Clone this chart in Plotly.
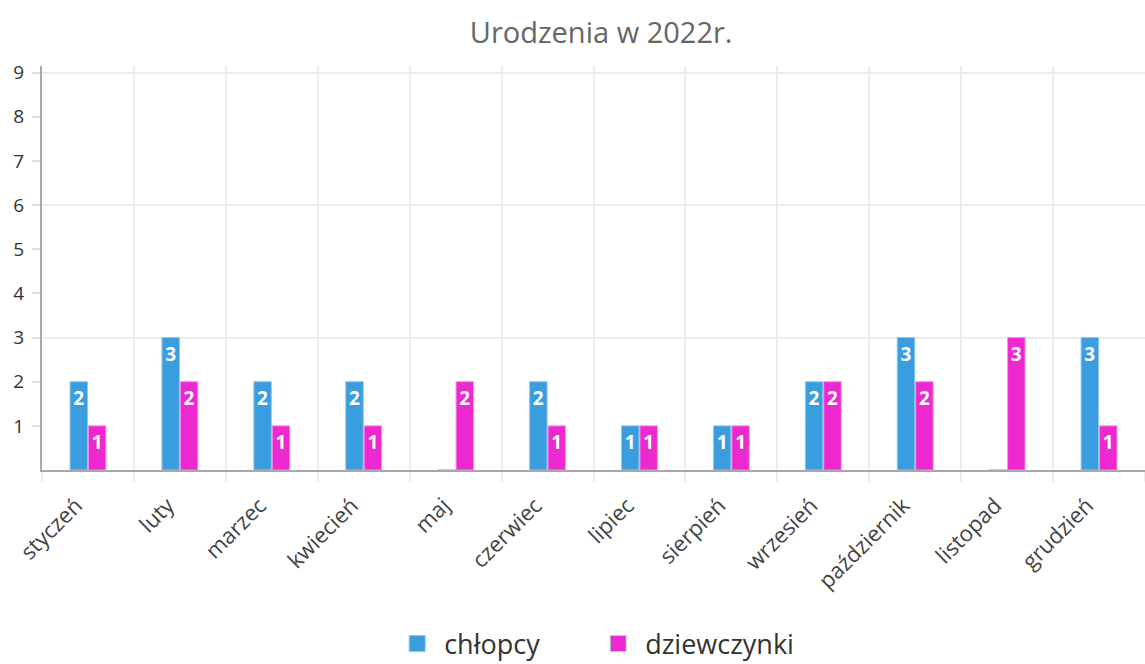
import plotly.graph_objects as go

months = ["styczeń", "luty", "marzec", "kwiecień", "maj", "czerwiec", "lipiec",
          "sierpień", "wrzesień", "październik", "listopad", "grudzień"]
boys = [2, 3, 2, 2, 0, 2, 1, 1, 2, 3, 0, 3]
girls = [1, 2, 1, 1, 2, 1, 1, 1, 2, 2, 3, 1]
y_ticks = list(range(1, 10))

BLUE = "#3a9de0"
PINK = "#ee28d0"
BLUE_EDGE = "#8cc8ee"
PINK_EDGE = "#f78fe6"

def labels(vals):
    return [str(v) if v else "" for v in vals]

fig = go.Figure()
for name, vals, col, edge in [("chłopcy", boys, BLUE, BLUE_EDGE),
                              ("dziewczynki", girls, PINK, PINK_EDGE)]:
    fig.add_trace(go.Bar(
        x=months, y=vals, name=name, legendgroup=name, showlegend=False,
        marker=dict(color=col, line=dict(color=edge, width=1)),
        text=labels(vals), textposition="inside", insidetextanchor="end",
        textangle=0, constraintext="none",
        textfont=dict(family="Open Sans", size=19, color="white", weight="bold"),
    ))
# legend entries with larger square swatches
for name, col, edge in [("chłopcy", BLUE, BLUE_EDGE), ("dziewczynki", PINK, "#9fe3b8")]:
    fig.add_trace(go.Scatter(
        x=[None], y=[None], name=" " + name, legendgroup=name, mode="markers",
        marker=dict(symbol="square", size=18, color=col, line=dict(color=edge, width=1)),
        hoverinfo="skip",
    ))
# helper trace for the grid axis
fig.add_trace(go.Scatter(x=[], y=[], yaxis="y2", showlegend=False, hoverinfo="skip"))

fig.update_layout(
    width=1145, height=664,
    margin=dict(l=42, r=0, t=66, b=194),
    paper_bgcolor="white", plot_bgcolor="white",
    font=dict(family="Open Sans", color="#444"),
    title=dict(text="Urodzenia w 2022r.", x=0.525, xanchor="center",
               y=1 - 33 / 664, yanchor="middle", yref="container",
               font=dict(family="Open Sans", size=29, color="#666")),
    barmode="group", bargap=0.6, bargroupgap=0.05,
    xaxis=dict(
        type="category", tickson="boundaries",
        showgrid=True, gridcolor="#ececec", gridwidth=2,
        ticks="outside", ticklen=10, tickcolor="#ececec", tickwidth=2,
        showline=True, linecolor="#a8a8a8", linewidth=2,
        tickangle=-45, tickfont=dict(size=22, color="#444"),
        ticklabelshift=-12, ticklabelstandoff=12,
    ),
    yaxis=dict(
        range=[0, 9.15], tickvals=y_ticks,
        showgrid=False, zeroline=False,
        ticks="outside", ticklen=8, tickcolor="#e0e0e0", tickwidth=2,
        showline=True, linecolor="#a8a8a8", linewidth=2,
        tickfont=dict(size=19, color="#333"), ticklabelstandoff=4,
    ),
    yaxis2=dict(
        overlaying="y", range=[0, 9.15], dtick=3,
        showgrid=True, gridcolor="#ececec", gridwidth=2,
        showticklabels=False, zeroline=False, showline=False, ticks="",
    ),
    legend=dict(
        orientation="h", x=0.322, xanchor="left",
        yref="container", y=1 - 644 / 664, yanchor="middle",
        font=dict(size=27, color="#333"), entrywidth=156,
    ),
)

fig.write_html("out.html", config={"displayModeBar": False},
               post_script="document.body.style.margin='0';")
